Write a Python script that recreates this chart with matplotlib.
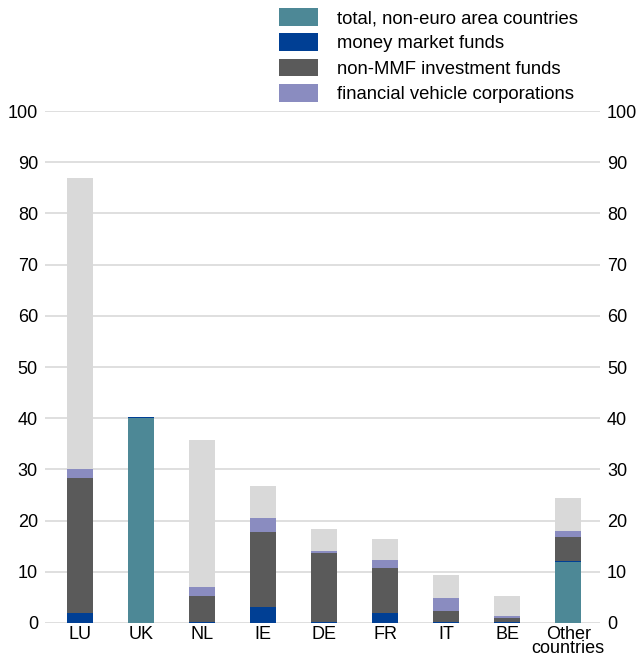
import matplotlib.pyplot as plt
import numpy as np
from matplotlib.patches import Patch

plt.rcParams['font.family'] = ['Liberation Sans', 'DejaVu Sans']

# data
countries = ['LU', 'UK', 'NL', 'IE', 'DE', 'FR', 'IT', 'BE', 'Other\ncountries']
non_euro = [0, 40.0, 0, 0, 0, 0, 0, 0, 11.9]
mmf = [2.0, 0.3, 0.2, 3.1, 0.2, 2.0, 0.2, 0.1, 0.2]
non_mmf = [26.4, 0, 5.1, 14.7, 13.5, 8.7, 2.2, 0.8, 4.6]
fvc = [1.7, 0, 1.7, 2.7, 0.4, 1.6, 2.5, 0.5, 1.3]
remainder = [56.9, 0, 28.7, 6.2, 4.3, 4.2, 4.4, 3.9, 6.5]

labels = ['total, non-euro area countries', 'money market funds',
          'non-MMF investment funds', 'financial vehicle corporations']
colors = ['#4d8896', '#003f94', '#5a5a5a', '#8a8cc0', '#d9d9d9']

fig = plt.figure(figsize=(6.41, 6.61), dpi=100)
ax = fig.add_axes([0.07, 0.0575, 0.866, 0.7745])

x = np.arange(len(countries))
width = 0.43
bottom = np.zeros(len(countries))
for vals, col in zip([non_euro, mmf, non_mmf, fvc, remainder], colors):
    vals = np.array(vals)
    ax.bar(x, vals, width, bottom=bottom, color=col, linewidth=0, zorder=3)
    bottom += vals

ax.set_ylim(0, 100)
ax.set_xlim(-0.57, 8.52)
ax.set_yticks(range(0, 101, 10))
ax.yaxis.grid(True, color='#d9d9d9', linewidth=1.2, zorder=0)
for s in ax.spines.values():
    s.set_visible(False)
ax.tick_params(axis='both', length=0, labelsize=13)
ax.tick_params(axis='y', labelright=True, pad=5)
ax.set_xticks(x)
ax.set_xticklabels(countries, linespacing=0.8)
ax.tick_params(axis='x', pad=2)

handles = [Patch(facecolor=c, edgecolor='none') for c in colors[:4]]
fig.legend(handles, labels, loc='upper left', bbox_to_anchor=(0.4245, 0.999),
           frameon=False, fontsize=13.3, handlelength=2.1, handleheight=1.1,
           labelspacing=0.33, handletextpad=1.0, borderaxespad=0)

fig.savefig('out.png', dpi=100)
